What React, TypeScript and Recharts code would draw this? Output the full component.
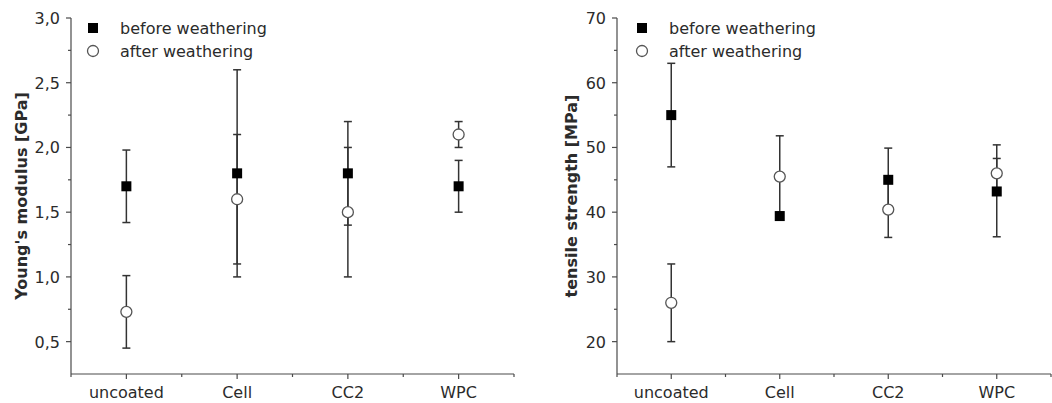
import React from 'react'
import { ComposedChart, Scatter, ErrorBar, XAxis, YAxis } from 'recharts'

const categories = ['uncoated', 'Cell', 'CC2', 'WPC']

// Young's modulus [GPa]
const modBefore = [1.7, 1.8, 1.8, 1.7]
const modBeforeLow = [1.42, 1.0, 1.4, 1.5]
const modBeforeHigh = [1.98, 2.6, 2.2, 1.9]
const modAfter = [0.73, 1.6, 1.5, 2.1]
const modAfterLow = [0.45, 1.1, 1.0, 2.0]
const modAfterHigh = [1.01, 2.1, 2.0, 2.2]
const modMajorTicks = [0.5, 1.0, 1.5, 2.0, 2.5, 3.0]
const modMinorTicks = [0.75, 1.25, 1.75, 2.25, 2.75]

// tensile strength [MPa]
const tensBefore = [55, 39.4, 45, 43.2]
const tensBeforeLow = [47, 38.8, 40.1, 36.2]
const tensBeforeHigh = [63, 40.0, 49.9, 50.4]
const tensAfter = [26, 45.5, 40.4, 46]
const tensAfterLow = [20, 39.4, 36.1, 43.7]
const tensAfterHigh = [32, 51.8, 44.7, 48.3]
const tensMajorTicks = [20, 30, 40, 50, 60, 70]
const tensMinorTicks = [25, 35, 45, 55, 65]

const legendLabels = ['before weathering', 'after weathering']

const FONT = '"DejaVu Sans", Arial, sans-serif'
const FS = 16
const TEXT = '#2b2b2b'
const AXIS = '#4a4a4a'
const CHART_H = 403
const TOP = 18
const BOTTOM = 28

function buildRows(before: number[], bLow: number[], bHigh: number[], after: number[], aLow: number[], aHigh: number[]) {
    return categories.map((cat, i) => ({
        cat,
        before: before[i],
        beforeErr: [before[i] - bLow[i], bHigh[i] - before[i]],
        after: after[i],
        afterErr: [after[i] - aLow[i], aHigh[i] - after[i]],
    }))
}

const SquareDot = (p: any) => (
    <rect x={p.cx - 5} y={p.cy - 5} width={10} height={10} fill="#000" />
)
const CircleDot = (p: any) => (
    <circle cx={p.cx} cy={p.cy} r={5.5} fill="#fff" stroke="#555" strokeWidth={1.3} />
)

function LegendBox({ left }: { left: number }) {
    return (
        <svg width={260} height={50} style={{ position: 'absolute', left, top: 14, display: 'block' }}>
            <rect x={6} y={9} width={10} height={10} fill="#000" />
            <text x={38} y={20} fontSize={FS} fontFamily={FONT} fill={TEXT}>{legendLabels[0]}</text>
            <circle cx={11} cy={37} r={5.5} fill="#fff" stroke="#555" strokeWidth={1.3} />
            <text x={38} y={43} fontSize={FS} fontFamily={FONT} fill={TEXT}>{legendLabels[1]}</text>
        </svg>
    )
}

interface PanelProps {
    rows: any[]
    domain: [number, number]
    major: number[]
    minor: number[]
    fmt: (v: number) => string
    label: string
    width: number
    axisWidth: number
    right: number
    labelOffset: number
    legendLeft: number
}

function Panel({ rows, domain, major, minor, fmt, label, width, axisWidth, right, labelOffset, legendLeft }: PanelProps) {
    const band = (width - axisWidth - right) / categories.length

    const yTick = (props: any) => {
        const { x, y, payload } = props
        const isMajor = major.includes(payload.value)
        return (
            <g>
                <line x1={x - (isMajor ? 5 : 3)} x2={x} y1={y} y2={y} stroke={AXIS} strokeWidth={1.2} />
                {isMajor && (
                    <text x={x - 11} y={y + 6} textAnchor="end" fontSize={FS} fontFamily={FONT} fill={TEXT}>
                        {fmt(payload.value)}
                    </text>
                )}
            </g>
        )
    }

    const xTick = (props: any) => {
        const { x, y, payload, index } = props
        return (
            <g>
                <line x1={x} x2={x} y1={y} y2={y + 5} stroke={AXIS} strokeWidth={1.2} />
                <line x1={x + band / 2} x2={x + band / 2} y1={y} y2={y + 3} stroke={AXIS} strokeWidth={1.2} />
                {index === 0 && (
                    <line x1={x - band / 2} x2={x - band / 2} y1={y} y2={y + 3} stroke={AXIS} strokeWidth={1.2} />
                )}
                <text x={x} y={y + 24} textAnchor="middle" fontSize={FS} fontFamily={FONT} fill={TEXT}>
                    {payload.value}
                </text>
            </g>
        )
    }

    return (
        <div style={{ position: 'relative', width, height: CHART_H }}>
            <ComposedChart
                width={width}
                height={CHART_H}
                data={rows}
                margin={{ top: TOP, right, bottom: BOTTOM, left: 0 }}
            >
                <XAxis
                    dataKey="cat"
                    type="category"
                    scale="band"
                    height={1}
                    tickSize={0}
                    tickMargin={0}
                    tickLine={false}
                    axisLine={{ stroke: AXIS, strokeWidth: 1.2 }}
                    tick={xTick}
                    interval={0}
                />
                <YAxis
                    type="number"
                    width={axisWidth}
                    domain={domain}
                    ticks={[...major, ...minor]}
                    interval={0}
                    tickSize={0}
                    tickMargin={0}
                    tickLine={false}
                    axisLine={{ stroke: AXIS, strokeWidth: 1.2 }}
                    tick={yTick}
                    allowDataOverflow
                    label={{
                        value: label,
                        angle: -90,
                        position: 'insideLeft',
                        offset: labelOffset,
                        fill: TEXT,
                        style: { textAnchor: 'middle', fontWeight: 'bold', fontSize: FS, fontFamily: FONT },
                    }}
                />
                <Scatter dataKey="before" shape={SquareDot} isAnimationActive={false}>
                    <ErrorBar dataKey="beforeErr" direction="y" width={4} stroke="#333" strokeWidth={1.5} />
                </Scatter>
                <Scatter dataKey="after" shape={CircleDot} isAnimationActive={false}>
                    <ErrorBar dataKey="afterErr" direction="y" width={4} stroke="#333" strokeWidth={1.5} />
                </Scatter>
            </ComposedChart>
            <LegendBox left={legendLeft} />
        </div>
    )
}

export default function App() {
    const modRows = buildRows(modBefore, modBeforeLow, modBeforeHigh, modAfter, modAfterLow, modAfterHigh)
    const tensRows = buildRows(tensBefore, tensBeforeLow, tensBeforeHigh, tensAfter, tensAfterLow, tensAfterHigh)

    return (
        <div style={{ position: 'absolute', left: 0, top: 0, width: 1052, height: CHART_H, background: '#fff', display: 'flex' }}>
            <Panel
                rows={modRows}
                domain={[0.25, 3.0]}
                major={modMajorTicks}
                minor={modMinorTicks}
                fmt={(v) => v.toFixed(1).replace('.', ',')}
                label="Young's modulus [GPa]"
                width={520}
                axisWidth={71}
                right={6}
                labelOffset={21}
                legendLeft={82}
            />
            <Panel
                rows={tensRows}
                domain={[15, 70]}
                major={tensMajorTicks}
                minor={tensMinorTicks}
                fmt={(v) => String(v)}
                label="tensile strength [MPa]"
                width={532}
                axisWidth={97}
                right={1}
                labelOffset={51}
                legendLeft={111}
            />
        </div>
    )
}
